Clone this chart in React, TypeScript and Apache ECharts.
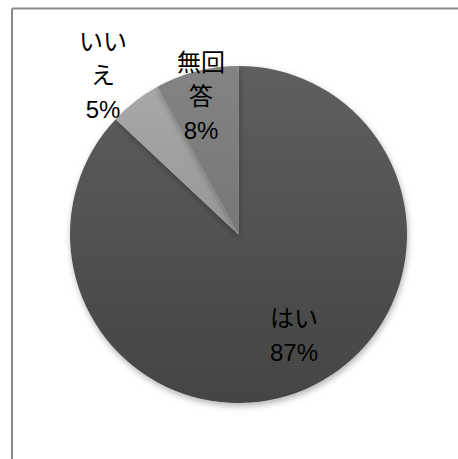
import React, { useEffect, useRef } from "react";
import * as echarts from "echarts";

const categories = ["はい", "いいえ", "無回答"];
const values = [87, 5, 8];
const topColors = ["#5f5f5f", "#a8a8a8", "#838383"];
const bottomColors = ["#444444", "#979797", "#777777"];
const labelPos = [
  [294, 335],
  [103, 75],
  [201, 96],
];

export default function App() {
  const ref = useRef<HTMLDivElement>(null);
  useEffect(() => {
    if (!ref.current) return;
    const chart = echarts.init(ref.current, undefined, { renderer: "svg" });
    chart.setOption({
      animation: false,
      backgroundColor: "#ffffff",
      graphic: [
        {
          type: "line",
          shape: { x1: 12, y1: 8.5, x2: 460, y2: 8.5 },
          style: { stroke: "#8a8a8a", lineWidth: 2 },
          silent: true,
        },
        {
          type: "line",
          shape: { x1: 12, y1: 8.5, x2: 12, y2: 462 },
          style: { stroke: "#8a8a8a", lineWidth: 2 },
          silent: true,
        },
      ],
      series: [
        {
          type: "pie",
          center: [238.5, 234.5],
          radius: 168.5,
          startAngle: 90,
          clockwise: true,
          data: categories.map((name, i) => ({
            name,
            value: values[i],
            itemStyle: {
              color: new echarts.graphic.LinearGradient(0, 0, 0, 1, [
                { offset: 0, color: topColors[i] },
                { offset: 1, color: bottomColors[i] },
              ]),
            },
          })),
          itemStyle: {
            borderWidth: 0,
            shadowBlur: 6,
            shadowOffsetX: 1,
            shadowOffsetY: 3,
            shadowColor: "rgba(0,0,0,0.3)",
          },
          label: {
            show: true,
            position: "outside",
            formatter: "{b}\n{c}%",
            color: "#000000",
            fontSize: 24,
            lineHeight: 34,
            fontFamily: "'Liberation Sans', 'Noto Sans CJK JP', sans-serif",
            width: 52,
            overflow: "break",
            align: "center",
            verticalAlign: "middle",
          },
          labelLine: { show: false },
          labelLayout: (params: any) => ({
            x: labelPos[params.dataIndex][0],
            y: labelPos[params.dataIndex][1],
            align: "center",
            verticalAlign: "middle",
          }),
          emphasis: { disabled: true },
        },
      ],
    });
    return () => chart.dispose();
  }, []);
  return (
    <div
      ref={ref}
      style={{ width: 458, height: 459, position: "absolute", left: 0, top: 0 }}
    />
  );
}
